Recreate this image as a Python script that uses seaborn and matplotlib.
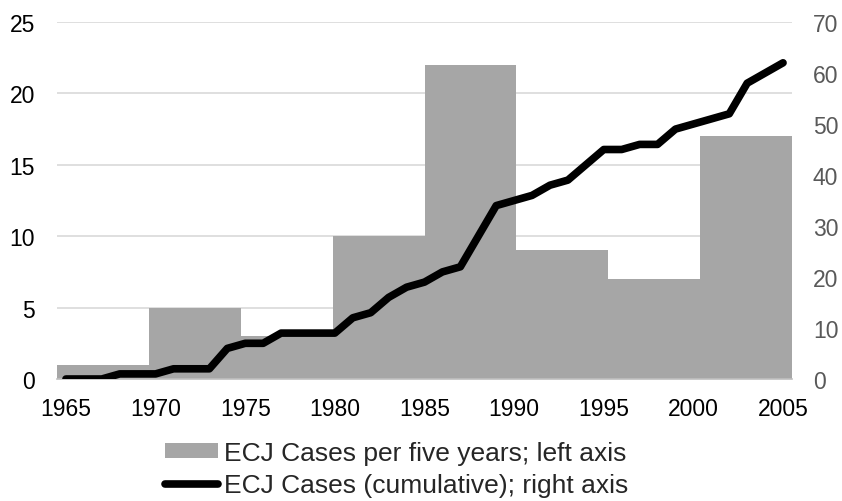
import numpy as np
import matplotlib.pyplot as plt
import pandas as pd
import seaborn as sns
from matplotlib.patches import Patch
from matplotlib.lines import Line2D

# five-year periods (bars, left axis)
periods = ["1965-69", "1970-74", "1975-79", "1980-84",
           "1985-89", "1990-94", "1995-99", "2000-04"]
cases_per_period = [1, 5, 3, 10, 22, 9, 7, 17]

# yearly cumulative count (line, right axis)
years = list(range(1965, 2006))
cumulative = [0, 0, 0, 1, 1, 1, 2, 2, 2, 6,
              7, 7, 9, 9, 9, 9, 12, 13, 16, 18,
              19, 21, 22, 28, 34, 35, 36, 38, 39, 42,
              45, 45, 46, 46, 49, 50, 51, 52, 58, 60,
              62]

left_ticks = [0, 5, 10, 15, 20, 25]
right_ticks = [0, 10, 20, 30, 40, 50, 60, 70]
year_ticks = [1965, 1970, 1975, 1980, 1985, 1990, 1995, 2000, 2005]

bar_label = "ECJ Cases per five years; left axis"
line_label = "ECJ Cases (cumulative); right axis"

sns.set_style("white")
plt.rcParams['font.family'] = ['Liberation Sans', 'DejaVu Sans']

bar_color = "#a6a6a6"
tick_size = 16.5

fig = plt.figure(figsize=(8.42, 5.02), dpi=100)
rect = [57 / 842, 1 - 380 / 502, (792 - 57) / 842, (380 - 23) / 502]

# bars
ax_bar = fig.add_axes(rect)
df_bar = pd.DataFrame({"period": periods, "cases": cases_per_period})
sns.barplot(data=df_bar, x="period", y="cases", color=bar_color,
            saturation=1, width=1.0, linewidth=0, edgecolor="none",
            ax=ax_bar, zorder=2)
ax_bar.set_xlim(-0.5, len(periods) - 0.5)
ax_bar.set_ylim(left_ticks[0], left_ticks[-1])
ax_bar.set_yticks(left_ticks)
ax_bar.set_xticks([])
ax_bar.set_xlabel("")
ax_bar.set_ylabel("")
ax_bar.grid(axis="y", color="#d9d9d9", lw=1.2, zorder=0)
ax_bar.set_axisbelow(True)
for s in ["top", "left", "right"]:
    ax_bar.spines[s].set_visible(False)
ax_bar.spines["bottom"].set_color("#bfbfbf")
ax_bar.spines["bottom"].set_linewidth(1.2)
ax_bar.spines["bottom"].set_zorder(3)
ax_bar.tick_params(axis="y", length=0, pad=16, labelsize=tick_size, labelcolor="black")

# cumulative line
ax_line = fig.add_axes(rect, frameon=False)
ax_line.patch.set_visible(False)
df_line = pd.DataFrame({"year": years, "cumulative": cumulative})
sns.lineplot(data=df_line, x="year", y="cumulative", color="black",
             lw=5.5, ax=ax_line, solid_capstyle="round", solid_joinstyle="round")
ax_line.set_xlim(years[0] - 0.5, years[-1] + 0.5)
ax_line.set_ylim(right_ticks[0], right_ticks[-1])
ax_line.set_yticks(right_ticks)
ax_line.set_xticks(year_ticks)
ax_line.yaxis.tick_right()
ax_line.set_xlabel("")
ax_line.set_ylabel("")
ax_line.tick_params(axis="y", length=0, pad=15, labelsize=tick_size, labelcolor="#595959")
ax_line.tick_params(axis="x", length=0, pad=13, labelsize=tick_size, labelcolor="black")

handles = [Patch(facecolor=bar_color, edgecolor="none", label=bar_label),
           Line2D([0], [0], color="black", lw=5.5, solid_capstyle="round", label=line_label)]
fig.legend(handles=handles, loc="upper left", bbox_to_anchor=(165 / 842, 1 - 442 / 502),
           frameon=False, fontsize=19, handlelength=2.0, handleheight=0.53,
           handletextpad=0.25, labelspacing=0.32, borderpad=0, borderaxespad=0)

fig.savefig("out.png", dpi=100)
